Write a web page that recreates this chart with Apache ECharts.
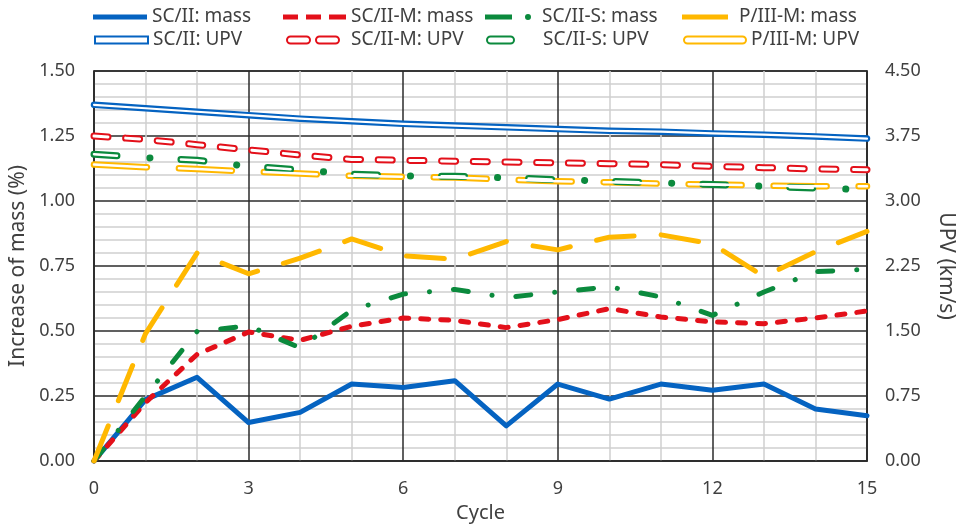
<!DOCTYPE html>
<html>
<head>
<meta charset="utf-8">
<script src="https://cdn.jsdelivr.net/npm/echarts@6/dist/echarts.min.js"></script>
<style>
html,body{margin:0;padding:0;background:#fff;}
#chart{width:957px;height:526px;}
</style>
</head>
<body>
<div id="chart"></div>
<script>
// ---- data ----
var cycles = [0, 1, 2, 3, 4, 5, 6, 7, 8, 9, 10, 11, 12, 13, 14, 15];
var massSC  = [0, 0.236, 0.322, 0.148, 0.187, 0.296, 0.283, 0.309, 0.135, 0.296, 0.238, 0.296, 0.272, 0.296, 0.200, 0.174];
var massSCM = [0, 0.225, 0.410, 0.496, 0.464, 0.518, 0.550, 0.541, 0.513, 0.544, 0.586, 0.554, 0.535, 0.528, 0.550, 0.577];
var massSCS = [0, 0.250, 0.498, 0.520, 0.435, 0.580, 0.642, 0.660, 0.629, 0.650, 0.670, 0.631, 0.560, 0.650, 0.728, 0.737];
var massP   = [0, 0.490, 0.800, 0.720, 0.780, 0.854, 0.789, 0.776, 0.844, 0.812, 0.861, 0.870, 0.835, 0.709, 0.805, 0.883];
var upvSC   = [4.11, 4.07, 4.03, 3.99, 3.95, 3.92, 3.89, 3.87, 3.85, 3.83, 3.81, 3.80, 3.78, 3.765, 3.745, 3.72];
var upvSCM  = [3.75, 3.71, 3.65, 3.59, 3.53, 3.48, 3.47, 3.46, 3.45, 3.44, 3.43, 3.42, 3.40, 3.385, 3.37, 3.36];
var upvSCS  = [3.54, 3.50, 3.47, 3.40, 3.36, 3.31, 3.29, 3.285, 3.267, 3.247, 3.228, 3.21, 3.19, 3.17, 3.15, 3.13];
var upvP    = [3.42, 3.39, 3.37, 3.34, 3.317, 3.29, 3.28, 3.27, 3.247, 3.228, 3.216, 3.20, 3.19, 3.178, 3.17, 3.17];
var xTicks = [0, 3, 6, 9, 12, 15];
var massTicks = [0, 0.25, 0.5, 0.75, 1.0, 1.25, 1.5];
var upvTicks = [0, 0.75, 1.5, 2.25, 3.0, 3.75, 4.5];
var names = ['SC/II: mass', 'SC/II-M: mass', 'SC/II-S: mass', 'P/III-M: mass',
             'SC/II: UPV', 'SC/II-M: UPV', 'SC/II-S: UPV', 'P/III-M: UPV'];

// ---- style ----
var C_BLUE = '#0563C1', C_RED = '#E3101A', C_GREEN = '#0B8A3D', C_ORANGE = '#FFB800';
var TXT = '#404040';
var FONT = '"Noto Sans", "DejaVu Sans", sans-serif';

function pairs(arr) { return cycles.map(function (c, i) { return [c, arr[i]]; }); }

function massSeries(name, arr, color, dash) {
  return {
    name: name, type: 'line', yAxisIndex: 0, data: pairs(arr),
    symbol: 'none', z: 5, animation: false,
    lineStyle: { color: color, width: 5, type: dash, cap: 'round', join: 'round' }
  };
}
function upvSeries(name, arr, color, dash, innerDash, wOuter, wInner) {
  return [{
    name: name, type: 'line', yAxisIndex: 1, data: pairs(arr),
    symbol: 'none', z: 3, animation: false,
    lineStyle: { color: color, width: wOuter, type: dash, cap: 'round', join: 'round' }
  }, {
    name: name + '_inner', type: 'line', yAxisIndex: 1, data: pairs(arr),
    symbol: 'none', z: 4, animation: false, silent: true,
    lineStyle: { color: '#ffffff', width: wInner, type: innerDash, cap: 'round', join: 'round' }
  }];
}

var series = [];
series = series.concat(upvSeries(names[4], upvSC, C_BLUE, 'solid', 'solid', 6.5, 2.2));
series = series.concat(upvSeries(names[5], upvSCM, C_RED, [14, 17.7], [14, 17.7], 7, 3));
series = series.concat(upvSeries(names[7], upvP, C_ORANGE, [53, 32], [53, 32], 6.5, 2.5));
series = series.concat(upvSeries(names[6], upvSCS, C_GREEN, [23, 33, 0.1, 31], [23, 64.1], 7, 2.5));
series.push(massSeries(names[0], massSC, C_BLUE, 'solid'));
series.push(massSeries(names[1], massSCM, C_RED, [8, 12]));
series.push(massSeries(names[2], massSCS, C_GREEN, [15, 24, 0.1, 24]));
series.push(massSeries(names[3], massP, C_ORANGE, [38, 27]));

function capsule(a, b, h) {
  var r = h / 2;
  return 'M' + (a + r) + ',0H' + (b - r) + 'A' + r + ',' + r + ' 0 0 1 ' + (b - r) + ',' + h +
         'H' + (a + r) + 'A' + r + ',' + r + ' 0 0 1 ' + (a + r) + ',0Z';
}
function legendItem(name, left, top, w, h, icon, itemStyle, padLeft) {
  return {
    show: true, left: left, top: top, padding: 0, itemGap: 0,
    itemWidth: w, itemHeight: h, symbolKeepAspect: false, selectedMode: false,
    data: [{ name: name, icon: icon, itemStyle: itemStyle }],
    textStyle: { color: TXT, fontSize: 19, fontFamily: FONT, lineHeight: 20, padding: [0, 0, 0, padLeft || 0] }
  };
}
var legends = [
  legendItem(names[0], 93, 7, 54, 5, 'path://M0,0H54V5H0Z', { color: C_BLUE }, 0),
  legendItem(names[1], 283, 7, 63, 5, 'path://M0,0H15V5H0Z M23,0H38V5H23Z M46,0H63V5H46Z', { color: C_RED }, 0),
  legendItem(names[2], 485, 7, 46, 6, 'path://M0,0.5H27V5.5H0Z M40,3a3,3 0 1,0 6,0a3,3 0 1,0 -6,0Z', { color: C_GREEN }, 6),
  legendItem(names[3], 682, 7, 46, 5, 'path://M0,0H46V5H0Z', { color: C_ORANGE }, 6),
  legendItem(names[4], 94, 30, 53, 7, 'rect', { color: '#fff', borderColor: C_BLUE, borderWidth: 2 }, 0),
  legendItem(names[5], 286, 30, 52, 7, 'path://' + capsule(0, 23, 7) + ' ' + capsule(29, 52, 7), { color: '#fff', borderColor: C_RED, borderWidth: 2 }, 7),
  legendItem(names[6], 486, 30, 27, 7, 'path://' + capsule(0, 27, 7), { color: '#fff', borderColor: C_GREEN, borderWidth: 2 }, 24),
  legendItem(names[7], 683, 30, 62, 7, 'path://' + capsule(0, 62, 7), { color: '#fff', borderColor: C_ORANGE, borderWidth: 2 }, 0)
];

var chart = echarts.init(document.getElementById('chart'), null, { renderer: 'canvas' });
chart.setOption({
  backgroundColor: '#ffffff',
  animation: false,
  textStyle: { fontFamily: FONT },
  legend: legends,
  grid: { left: 94, right: 90, top: 71, bottom: 65, containLabel: false, outerBoundsMode: 'none',
          show: true, borderColor: '#2b2b2b', borderWidth: 1.5, backgroundColor: 'transparent' },
  xAxis: {
    type: 'value', min: xTicks[0], max: xTicks[xTicks.length - 1], interval: xTicks[1] - xTicks[0],
    name: 'Cycle', nameLocation: 'middle', nameGap: 42,
    nameTextStyle: { color: TXT, fontSize: 20, fontFamily: FONT },
    axisLine: { show: true, lineStyle: { color: '#2b2b2b', width: 1.5 } },
    axisTick: { show: false },
    axisLabel: { color: TXT, fontSize: 18, margin: 19, fontFamily: FONT },
    splitLine: { show: true, lineStyle: { color: '#2b2b2b', width: 1.5 } },
    minorTick: { show: false, splitNumber: 3 },
    minorSplitLine: { show: true, lineStyle: { color: '#cfcfcf', width: 1.5 } }
  },
  yAxis: [{
    type: 'value', min: massTicks[0], max: massTicks[massTicks.length - 1], interval: massTicks[1] - massTicks[0],
    name: 'Increase of mass (%)', nameLocation: 'middle', nameRotate: 90, nameGap: 62,
    nameTextStyle: { color: TXT, fontSize: 21, fontFamily: FONT },
    axisLine: { show: true, lineStyle: { color: '#2b2b2b', width: 1.5 } },
    axisTick: { show: false },
    axisLabel: { color: TXT, fontSize: 18, margin: 19, fontFamily: FONT, formatter: function (v) { return v.toFixed(2); } },
    splitLine: { show: true, lineStyle: { color: '#2b2b2b', width: 1.5 } },
    minorTick: { show: false, splitNumber: 5 },
    minorSplitLine: { show: true, lineStyle: { color: '#cfcfcf', width: 1.5 } }
  }, {
    type: 'value', position: 'right', min: upvTicks[0], max: upvTicks[upvTicks.length - 1], interval: upvTicks[1] - upvTicks[0],
    name: 'UPV (km/s)', nameLocation: 'middle', nameRotate: -90, nameGap: 68,
    nameTextStyle: { color: TXT, fontSize: 21, fontFamily: FONT },
    axisLine: { show: true, lineStyle: { color: '#2b2b2b', width: 1.5 } },
    axisTick: { show: false },
    axisLabel: { color: TXT, fontSize: 18, margin: 18, fontFamily: FONT, formatter: function (v) { return v.toFixed(2); } },
    splitLine: { show: false }
  }],
  series: series
});
</script>
</body>
</html>
